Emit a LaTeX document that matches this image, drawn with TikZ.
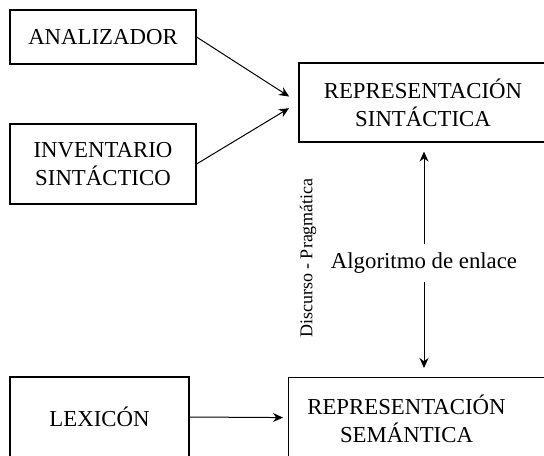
\documentclass[tikz,border=0pt]{standalone}
\usepackage{fontspec}
\setmainfont{Liberation Serif}
\usetikzlibrary{arrows.meta,positioning,calc}

\begin{document}
\begin{tikzpicture}[x=0.5pt, y=-0.5pt, font=\fontsize{11.4}{14}\selectfont]
    % Estilos
    \tikzstyle{caja} = [rectangle, draw, line width=0.6pt, align=center, inner sep=0pt]
    \tikzstyle{texto} = [align=center, inner sep=0pt]
    \tikzstyle{flecha} = [-{Stealth[length=5pt, width=4.5pt]}, line width=0.5pt, shorten >=5.5pt]

    \useasboundingbox (0,0) rectangle (544,455);

    % Cajas
    \node[caja, minimum width=93pt, minimum height=27pt] (analizador) at (103,37) {ANALIZADOR};
    \node[caja, minimum width=93pt, minimum height=40pt] (inventario) at (103,164) {INVENTARIO\\SINTÁCTICO};
    \node[caja, minimum width=124pt, minimum height=39.5pt] (sint) at (423,102.5) {REPRESENTACIÓN\\SINTÁCTICA};
    \node[caja, minimum width=89.5pt, minimum height=40pt] (lexicon) at (99.5,417) {LEXICÓN};
    \node[caja, minimum width=140pt, minimum height=40pt, anchor=north west] (sem) at (288,377) {};
    \node[texto] (semtexto) at (406.5,419) {REPRESENTACIÓN\\SEMÁNTICA};

    % Textos
    \node[texto, inner sep=4pt] (enlace) at (424,263) {Algoritmo de enlace};
    \node[texto, rotate=90, font=\fontsize{9}{11}\selectfont] (discurso) at (308,258) {Discurso - Pragmática};

    % Flechas
    \draw[flecha] (analizador.east) -- (sint.west);
    \draw[flecha] (inventario.east) -- (sint.west);
    \draw[flecha, shorten >=2.5pt] (lexicon.east) -- (sem.west);
    \draw[flecha, shorten >=4.5pt] (enlace) -- (enlace |- sint.south);
    \draw[flecha, shorten >=4.5pt] (enlace) -- (enlace |- sem.north);
\end{tikzpicture}
\end{document}
